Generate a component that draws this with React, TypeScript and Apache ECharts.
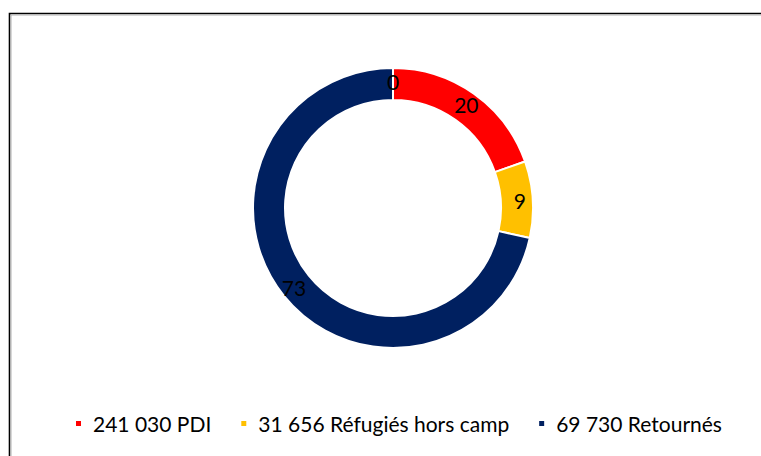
import React, { useEffect, useRef } from "react";
import * as echarts from "echarts";

const categories = ["241 030 PDI", "31 656 Réfugiés hors camp", "69 730 Retournés", "Autre"];
const values = [20, 9, 73, 0];
const colors = ["#FF0000", "#FFC000", "#002060", "#7F7F7F"];
const legendNames = categories.slice(0, 3);

export default function App() {
  const ref = useRef<HTMLDivElement>(null);
  useEffect(() => {
    if (!ref.current) return;
    const chart = echarts.init(ref.current, null, { renderer: "svg" });
    chart.setOption({
      animation: false,
      backgroundColor: "#ffffff",
      graphic: [
        {
          type: "rect",
          shape: { x: 9.5, y: 13.5, width: 900, height: 600 },
          style: { fill: "none", stroke: "#000000", lineWidth: 1.6 },
        },
        {
          type: "rect",
          shape: { x: 11, y: 15, width: 900, height: 600 },
          style: { fill: "none", stroke: "#b0b0b0", lineWidth: 1 },
        },
      ],
      legend: {
        data: legendNames,
        bottom: 17,
        left: 69,
        icon: "rect",
        itemWidth: 7,
        itemHeight: 7,
        itemGap: 28,
        textStyle: {
          fontFamily: "Lato",
          fontSize: 21,
          color: "#000000",
          padding: [0, 0, 0, 6],
        },
      },
      series: [
        {
          type: "pie",
          center: [393, 208],
          radius: [108, 140],
          startAngle: 90,
          clockwise: true,
          avoidLabelOverlap: false,
          minShowLabelAngle: 0,
          itemStyle: { borderColor: "#ffffff", borderWidth: 2 },
          label: {
            show: true,
            position: "inside",
            formatter: "{c}",
            fontFamily: "Lato",
            fontSize: 21,
            color: "#000000",
          },
          labelLine: { show: false },
          emphasis: { disabled: true },
          data: categories.map((name, i) => ({
            name,
            value: values[i],
            itemStyle: { color: colors[i] },
          })),
        },
      ],
    });
    return () => chart.dispose();
  }, []);
  return (
    <div
      ref={ref}
      style={{ position: "fixed", left: 0, top: 0, width: 761, height: 456 }}
    />
  );
}
